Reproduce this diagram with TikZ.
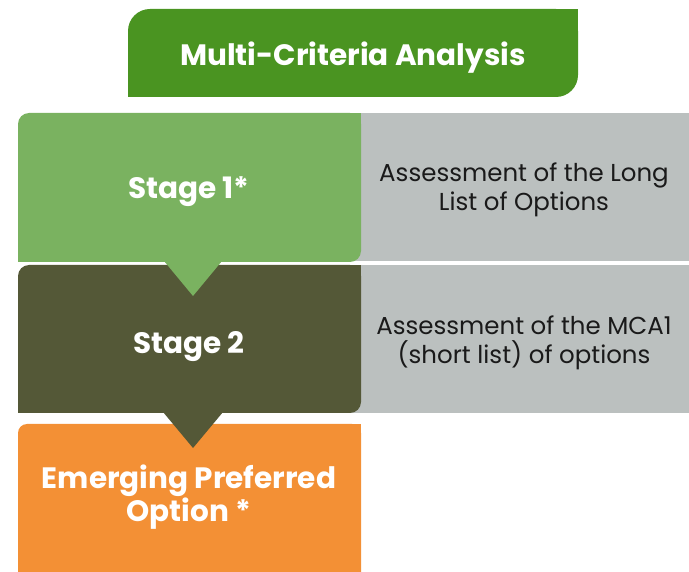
\documentclass[tikz,border=0pt]{standalone}
\usepackage{fontspec}
\setmainfont{Poppins}
\definecolor{titlegreen}{HTML}{4A9421}
\definecolor{stageone}{HTML}{7AB260}
\definecolor{stagetwo}{HTML}{545837}
\definecolor{emerge}{HTML}{F39035}
\definecolor{greybox}{HTML}{BBC0BF}
\definecolor{greytext}{HTML}{1A1A1A}
\tikzset{
  boldtxt/.style={text=white,font=\bfseries\fontsize{29.5}{29}\selectfont,align=center,inner sep=0pt},
  greytxt/.style={text=greytext,font=\fontsize{24.5}{29}\selectfont,align=center,inner sep=0pt},
}
\begin{document}
\begin{tikzpicture}[x=1pt,y=-1pt]
\useasboundingbox (0,0) rectangle (689,572);
% grey boxes
\fill[greybox] (340,113) rectangle (689,261);
\fill[greybox] (340,265) rectangle (689,413);
% stage 2 box
\fill[stagetwo,rounded corners=11pt] (18,265) rectangle (361,413);
\fill[stagetwo] (18,340) rectangle (200,413);
\fill[stagetwo] (200,265) rectangle (361,340);
% orange box
\fill[emerge,rounded corners=9pt] (18,424) rectangle (361,600);
\fill[emerge] (18,500) rectangle (361,600);
\fill[emerge] (200,424) rectangle (361,500);
% stage 2 pointer
\fill[stagetwo] (163,412) -- (223,412) -- (193,448) -- cycle;
% stage 1 box
\fill[stageone,rounded corners=11pt] (18,113) rectangle (361,262);
\fill[stageone] (18,190) rectangle (200,262);
\fill[stageone] (200,113) rectangle (361,190);
% stage 1 pointer
\fill[stageone] (164,261) -- (222,261) -- (193,296) -- cycle;
% title box
\fill[titlegreen,rounded corners=22pt] (128,9) rectangle (578,97);
\fill[titlegreen] (300,9) rectangle (578,50);
\fill[titlegreen] (128,50) rectangle (300,97);
% texts
\node[boldtxt] (title) at (353,58) {Multi-Criteria Analysis};
\node[boldtxt] (s1) at (189,192) {Stage 1*};
\node[boldtxt] (s2) at (189,347) {Stage 2};
\node[boldtxt] (epo) at (189,497) {Emerging Preferred\\Option *};
\node[greytxt] (g1) at (524,190) {Assessment of the Long\\List of Options};
\node[greytxt] (g2) at (524,343) {Assessment of the MCA1\\(short list) of options};
\end{tikzpicture}
\end{document}
